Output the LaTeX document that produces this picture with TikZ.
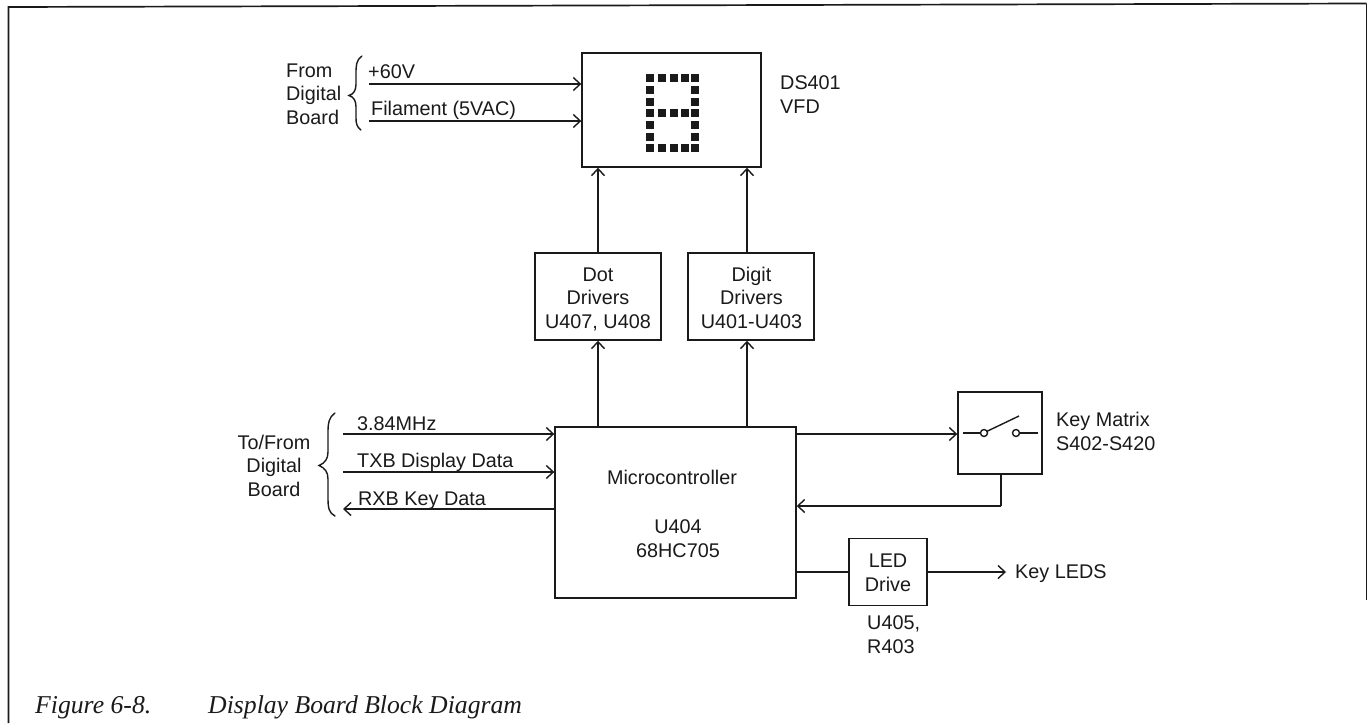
\documentclass[tikz,border=0pt]{standalone}
\usepackage{fontspec}
\setmainfont{Liberation Sans}
\newfontfamily\capfont{Liberation Serif}
\usetikzlibrary{arrows.meta}
\definecolor{ink}{HTML}{1A1A1A}
\tikzset{
  box/.style={draw=ink,line width=1.4pt,rectangle,inner sep=0pt},
  lab/.style={inner sep=0pt,text=ink,font=\fontsize{19.8}{23.5}\selectfont,anchor=base west,align=left},
  cnt/.style={inner sep=0pt,text=ink,font=\fontsize{19.8}{23.5}\selectfont,align=center,anchor=base},
  wire/.style={draw=ink,line width=1.4pt},
  arr/.style={wire,-{Straight Barb[length=7pt,width=13pt,line width=1.4pt]}},
  brc/.style={draw=ink,line width=1.4pt,line cap=round},
  dotc/.style={fill=ink,draw=none,inner sep=0pt,minimum size=7.5pt,rectangle},
  captxt/.style={inner sep=0pt,anchor=base west,text=ink,font=\capfont\itshape\fontsize{25.7}{28}\selectfont},
}
\begin{document}
\begin{tikzpicture}[x=1pt,y=-1pt]
\useasboundingbox (0,0) rectangle (1368,723);
\fill[white] (0,0) rectangle (1368,723);
\coordinate (fa) at (8.5,723);\coordinate (fb) at (8.5,7);\coordinate (fc) at (1366.5,3.5);\coordinate (fd) at (1366.5,600);
\draw[draw=ink,line width=1.7pt] (fa) -- (fb) -- (fc);
\draw[draw=ink,line width=1pt] (fc) -- (fd);
% boxes
\node[box,minimum width=179pt,minimum height=114pt] (vfd) at (671.5,110) {};
\node[box,minimum width=126pt,minimum height=87pt] (dot) at (598,296.5) {};
\node[box,minimum width=126pt,minimum height=87pt] (dig) at (751,296.5) {};
\node[box,minimum width=241pt,minimum height=171pt] (mcu) at (675.5,512.5) {};
\node[box,minimum width=84pt,minimum height=82pt] (key) at (1000,433) {};
\node[box,minimum width=78pt,minimum height=67pt] (led) at (888,572) {};
% box texts
\node[cnt] (dott) at (598,328) {Dot\\Drivers\\U407, U408};
\node[cnt] (digt) at (751.5,328) {Digit\\Drivers\\U401-U403};
\node[cnt] (mcua) at (672,484) {Microcontroller};
\node[cnt] (mcub) at (678,557) {U404\\68HC705};
\node[cnt] (ledt) at (888,591) {LED\\Drive};
% dots
\foreach \c/\x in {1/650,2/662,3/674,4/685,5/695}{
  \node[dotc] (dt\c) at (\x,78) {};
  \node[dotc] (dm\c) at (\x,113) {};
  \node[dotc] (db\c) at (\x,148) {};
}
\foreach \r/\y in {1/90,2/102,3/125,4/137}{
  \node[dotc] (dl\r) at (650,\y) {};
  \node[dotc] (dr\r) at (695,\y) {};
}
% labels
\node[lab] (from) at (286,124) {From\\Digital\\Board};
\node[cnt] (tofrom) at (274,496) {To/From\\Digital\\Board};
\node[lab] (v60) at (368,78) {+60V};
\node[lab] (fil) at (371,115) {Filament (5VAC)};
\node[lab] (clk) at (357,430) {3.84MHz};
\node[lab] (txb) at (357,467) {TXB Display Data};
\node[lab] (rxb) at (358,505) {RXB Key Data};
\node[lab] (ds) at (780,113) {DS401\\VFD};
\node[lab] (km) at (1056,450) {Key Matrix\\S402-S420};
\node[lab] (kl) at (1015,578) {Key LEDS};
\node[lab] (u405) at (867,653) {U405,\\R403};
\node[captxt] (figa) at (35,713) {Figure 6-8.};
\node[captxt] (figb) at (208,713) {Display Board Block Diagram};
% free ends
\coordinate (i60) at (369,84);
\coordinate (ifil) at (369,121);
\coordinate (iclk) at (343,434);
\coordinate (itxb) at (343,472);
\coordinate (orxb) at (343,509);
\coordinate (okl) at (1006,572);
\coordinate (kret) at (1001,506);
\coordinate (dotx) at (598,0);
\coordinate (digx) at (747,0);
% connectors
\draw[arr] (i60) -- (i60 -| vfd.west);
\draw[arr] (ifil) -- (ifil -| vfd.west);
\draw[arr] (iclk) -- (iclk -| mcu.west);
\draw[arr] (itxb) -- (itxb -| mcu.west);
\draw[arr] (orxb -| mcu.west) -- (orxb);
\draw[arr] (dotx |- dot.north) -- (dotx |- vfd.south);
\draw[arr] (digx |- dig.north) -- (digx |- vfd.south);
\draw[arr] (dotx |- mcu.north) -- (dotx |- dot.south);
\draw[arr] (digx |- mcu.north) -- (digx |- dig.south);
\draw[arr] (mcu.east |- iclk) -- (key.west |- iclk);
\draw[wire] (kret |- key.south) -- (kret);
\draw[arr] (kret) -- (kret -| mcu.east);
\draw[wire] (mcu.east |- led.west) -- (led.west);
\draw[arr] (led.east) -- (okl);
% switch
\coordinate (s1) at (963,433);\coordinate (s2) at (984,433);\coordinate (s3) at (1016,433);\coordinate (s4) at (1038,433);\coordinate (s5) at (1019,416);
\draw[wire] (s1) -- ++(17.5,0);
\draw[wire] (s2) ++(3,-1.7) -- (s5);
\draw[wire] (s3) ++(3.5,0) -- (s4);
\draw[wire] (s2) circle (3.5);
\draw[wire] (s3) circle (3.5);
% braces
\draw[brc] (362,56) .. controls (356,60) and (356,66) .. (356,74) -- (356,84) .. controls (356,90) and (354,94) .. (349,95.5) .. controls (354,97) and (356,101) .. (356,107) -- (356,118) .. controls (356,124) and (357,127) .. (361,130);
\draw[brc] (335,413) .. controls (329,417) and (328,423) .. (328,432) -- (328,452) .. controls (328,459) and (325,463) .. (319,465.5) .. controls (325,468) and (328,472) .. (328,479) -- (328,498) .. controls (328,508) and (329,513) .. (335,516);
\end{tikzpicture}
\end{document}
